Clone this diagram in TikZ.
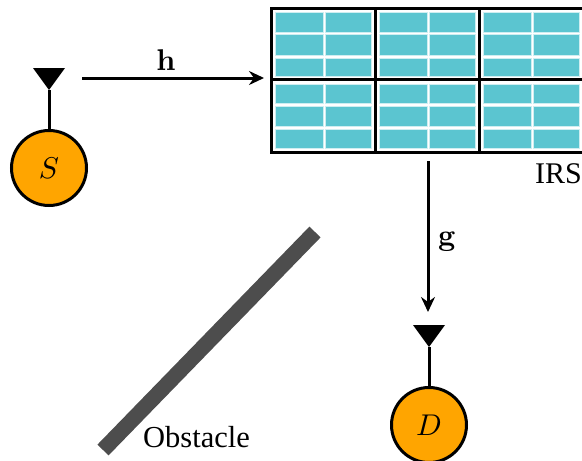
\documentclass[tikz,border=0pt]{standalone}
\usepackage[no-math]{fontspec}
\setmainfont{Liberation Serif}
\usetikzlibrary{arrows.meta}
\definecolor{panel}{HTML}{5BC5D0}
\definecolor{obst}{HTML}{4D4D4D}
\definecolor{user}{HTML}{FFA500}
\tikzset{
  x=1pt,y=-1pt,
  usernode/.style={circle,draw=black,line width=3pt,fill=user,minimum size=75pt,inner sep=0pt},
  antennafeed/.style={line width=3pt},
  antennahead/.style={fill=black,draw=none},
  link/.style={line width=3pt,-{Stealth[length=15pt,width=14pt,inset=5pt]}},
  frameline/.style={line width=3pt},
  panelcell/.style={fill=panel,draw=white!70!panel,line width=.5pt},
  obstaclebar/.style={obst,line width=15.5pt},
  lab/.style={inner sep=0pt,font=\fontsize{30}{32}\selectfont},
  obstlab/.style={inner sep=0pt,font=\fontsize{30.5}{32}\selectfont},
}
\newcommand{\lgmath}[1]{{\normalsize\scalebox{3}{$#1$}}}
\begin{document}
\begin{tikzpicture}
\useasboundingbox (0,0) rectangle (582,461);
\clip (0,0) rectangle (582,461);
% IRS panels
\foreach \ox in {275,379,483}{
  \foreach \oy/\ya/\yb/\yc/\yd/\ye/\yf in {0/12/32/34/55/58/76, 1/84/103/106/126/129/148}{
    \foreach \ca/\cb in {\ya/\yb,\yc/\yd,\ye/\yf}{
      \fill[panelcell] (\ox,\ca) rectangle ({\ox+48},\cb);
      \fill[panelcell] ({\ox+50},\ca) rectangle ({\ox+96},\cb);
    }
  }
}
\draw[frameline] (271,8) rectangle (590,152);
\draw[frameline] (375,8) -- (375,152);
\draw[frameline] (479,8) -- (479,152);
\draw[frameline] (271,79) -- (590,79);
\node[lab,anchor=base east] (irs) at (582,183) {IRS};
% Source
\node[usernode] (s) at (49,168) {\lgmath{S}};
\coordinate (sa) at (49,90);
\fill[antennahead] (33,68) -- (65,68) -- (sa) -- cycle;
\draw[antennafeed] (sa) -- (s.north);
% Destination
\node[usernode] (d) at (429,425) {\lgmath{D}};
\coordinate (da) at (429,347);
\fill[antennahead] (413,325) -- (445,325) -- (da) -- cycle;
\draw[antennafeed] (da) -- (d.north);
% Links
\coordinate (h0) at (82,78);
\coordinate (h1) at (264,78);
\coordinate (g0) at (428,161);
\coordinate (g1) at (428,312);
\draw[link] (h0) -- (h1);
\draw[link] (g0) -- (g1);
\node[lab,anchor=base] (hl) at (166,70) {\lgmath{\mathbf{h}}};
\node[lab,anchor=base] (gl) at (447,245) {\lgmath{\mathbf{g}}};
% Obstacle
\coordinate (o0) at (103,450);
\coordinate (o1) at (315,232);
\draw[obstaclebar] (o0) -- (o1);
\node[obstlab,anchor=base west] (ob) at (143,447) {Obstacle};
\end{tikzpicture}
\end{document}
